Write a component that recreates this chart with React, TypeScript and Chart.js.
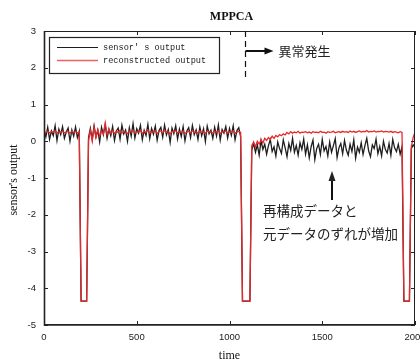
import React, { useEffect, useRef } from "react";
import { Chart, registerables } from "chart.js";

Chart.register(...registerables);

const TIME_STEP = 10;
const X_TICKS = [0, 500, 1000, 1500, 2000];
const Y_TICKS = [-5, -4, -3, -2, -1, 0, 1, 2, 3];
const DROP = -4.35;

const sensorOutput = [
  0.30, 0.12, 0.38, 0.05, 0.28, 0.15, 0.42, 0.02, 0.33, 0.18, 0.40, 0.08, 0.25, 0.36, 0.00, 0.31, 0.14, 0.39, 0.10, 0.27,
  DROP, DROP, DROP, DROP,
  0.10, 0.35, 0.05, 0.42, 0.12, 0.30, -0.02, 0.38, 0.18, 0.45, 0.08, 0.33, 0.15, 0.40, 0.02, 0.28, 0.36, 0.06, 0.44, 0.20,
  0.31, 0.00, 0.37, 0.14, 0.48, 0.09, 0.34, 0.22, 0.43, 0.04, 0.30, 0.16, 0.46, 0.07, 0.35, 0.19, 0.41, 0.03, 0.29, 0.38,
  0.11, 0.44, 0.17, 0.32, -0.03, 0.36, 0.21, 0.42, 0.06, 0.33, 0.13, 0.40, 0.01, 0.28, 0.37, 0.10, 0.43, 0.18, 0.31, 0.05,
  0.39, 0.15, 0.34, -0.01, 0.41, 0.20, 0.30, 0.08, 0.38, 0.14, 0.44, 0.03, 0.32, 0.22, 0.40, 0.09, 0.35, 0.16, 0.42, 0.04,
  0.29, 0.37, 0.12,
  DROP, DROP, DROP, DROP, DROP,
  -0.25, -0.05, -0.30, -0.10, -0.38, 0.02, -0.22, -0.08, -0.35, -0.12, 0.05, -0.28, -0.15, -0.40, -0.02, -0.20, -0.33, 0.04,
  -0.18, -0.42, -0.06, -0.25, 0.08, -0.30, -0.12, -0.38, -0.04, -0.22, 0.06, -0.35, -0.10, -0.45, -0.15, 0.03, -0.50, -0.20,
  -0.08, -0.36, 0.05, -0.26, -0.14, -0.40, -0.02, -0.30, -0.12, 0.07, -0.44, -0.18, -0.06, -0.34, 0.02, -0.24, -0.38, -0.08,
  -0.28, 0.04, -0.46, -0.16, -0.30, -0.04, -0.36, -0.12, 0.08, -0.26, -0.42, -0.10, -0.20, 0.06, -0.34, -0.14, -0.40, 0.00,
  -0.22, -0.32, -0.06, -0.38, 0.05, -0.18, -0.28, -0.08, -0.35, -0.15,
  DROP, DROP, DROP, DROP,
  -0.20, -0.10, -0.15,
];

const reconstructedOutput = [
  0.25, 0.24, 0.27, 0.23, 0.26, 0.25, 0.28, 0.22, 0.26, 0.24, 0.27, 0.23, 0.25, 0.26, 0.22, 0.27, 0.24, 0.26, 0.23, 0.25,
  DROP, DROP, DROP, DROP,
  0.02, 0.30, 0.00, 0.38, 0.10, 0.32, 0.14, 0.28, 0.20, 0.50, 0.18, 0.32, 0.22, 0.29, 0.21, 0.27, 0.24, 0.30, 0.22, 0.26,
  0.25, 0.21, 0.28, 0.24, 0.29, 0.22, 0.26, 0.25, 0.30, 0.21, 0.27, 0.24, 0.31, 0.22, 0.26, 0.25, 0.29, 0.21, 0.26, 0.28,
  0.23, 0.30, 0.24, 0.26, 0.20, 0.27, 0.25, 0.29, 0.22, 0.26, 0.24, 0.28, 0.21, 0.25, 0.27, 0.23, 0.29, 0.24, 0.26, 0.22,
  0.28, 0.24, 0.26, 0.21, 0.28, 0.25, 0.26, 0.22, 0.27, 0.24, 0.29, 0.21, 0.26, 0.25, 0.28, 0.22, 0.26, 0.24, 0.28, 0.22,
  0.25, 0.27, 0.24,
  DROP, DROP, DROP, DROP, DROP,
  -0.12, -0.02, -0.15, 0.00, -0.08, 0.04, -0.05, 0.08, 0.02, 0.10, 0.05, 0.14, 0.08, 0.16, 0.12, 0.18, 0.15, 0.20,
  0.17, 0.24, 0.20, 0.26, 0.22, 0.25, 0.23, 0.27, 0.22, 0.25, 0.24, 0.26, 0.23, 0.25, 0.22, 0.26, 0.24, 0.25,
  0.23, 0.27, 0.24, 0.25, 0.22, 0.26, 0.24, 0.25, 0.27, 0.23, 0.25, 0.26, 0.24, 0.27, 0.25, 0.26, 0.24, 0.28,
  0.25, 0.27, 0.24, 0.26, 0.28, 0.25, 0.27, 0.26, 0.29, 0.25, 0.27, 0.26, 0.28, 0.25, 0.27, 0.26, 0.28, 0.25,
  0.27, 0.26, 0.25, 0.27, 0.24, 0.26, 0.25, 0.23, 0.26, 0.24,
  DROP, DROP, DROP, DROP,
  -0.15, 0.10, 0.25,
];

const ANOMALY_TIME = 1086;
const TITLE = "MPPCA";
const X_LABEL = "time";
const Y_LABEL = "sensor's output";
const LEGEND_LABELS = ["sensor' s output", "reconstructed output"];
const ANOMALY_TEXT = "異常発生";
const NOTE_LINES = ["再構成データと", "元データのずれが増加"];

const BLACK = "#1e1e1e";
const RED = "#e8282c";
const LEGEND_RED = "#f06262";

const toPoints = (vals: number[]) => vals.map((v, i) => ({ x: i * TIME_STEP, y: v }));

const decorPlugin = {
  id: "decor",
  afterDraw(chart: any) {
    const ctx = chart.ctx as CanvasRenderingContext2D;
    const { left, right, top, bottom } = chart.chartArea;
    const xs = chart.scales.x;
    const ys = chart.scales.y;
    ctx.save();

    // frame
    ctx.strokeStyle = "#222";
    ctx.lineWidth = 1;
    ctx.strokeRect(left + 0.5, top + 0.5, right - left - 1, bottom - top - 1);
    ctx.lineWidth = 1.6;
    ctx.beginPath();
    ctx.moveTo(left + 0.5, top);
    ctx.lineTo(left + 0.5, bottom);
    ctx.lineTo(right, bottom);
    ctx.stroke();

    // inward ticks
    ctx.lineWidth = 1;
    const tl = 4;
    for (const t of X_TICKS) {
      const px = Math.round(xs.getPixelForValue(t)) + 0.5;
      ctx.beginPath();
      ctx.moveTo(px, bottom);
      ctx.lineTo(px, bottom - tl);
      ctx.moveTo(px, top);
      ctx.lineTo(px, top + tl);
      ctx.stroke();
    }
    for (const t of Y_TICKS) {
      const py = Math.round(ys.getPixelForValue(t)) + 0.5;
      ctx.beginPath();
      ctx.moveTo(left, py);
      ctx.lineTo(left + tl, py);
      ctx.moveTo(right, py);
      ctx.lineTo(right - tl, py);
      ctx.stroke();
    }

    // dashed anomaly line
    const ax = Math.round(xs.getPixelForValue(ANOMALY_TIME)) + 0.5;
    ctx.strokeStyle = "#111";
    ctx.lineWidth = 1.2;
    ctx.setLineDash([6, 4]);
    ctx.beginPath();
    ctx.moveTo(ax, top);
    ctx.lineTo(ax, top + 46);
    ctx.stroke();
    ctx.setLineDash([]);

    // right arrow
    const ay = top + 20;
    ctx.lineWidth = 2;
    ctx.beginPath();
    ctx.moveTo(ax, ay);
    ctx.lineTo(ax + 20, ay);
    ctx.stroke();
    ctx.fillStyle = "#111";
    ctx.beginPath();
    ctx.moveTo(ax + 28, ay);
    ctx.lineTo(ax + 19, ay - 3.5);
    ctx.lineTo(ax + 19, ay + 3.5);
    ctx.closePath();
    ctx.fill();

    ctx.fillStyle = "#222";
    ctx.font = '13px "Noto Sans CJK JP"';
    ctx.textAlign = "left";
    ctx.textBaseline = "middle";
    ctx.fillText(ANOMALY_TEXT, ax + 33, ay);

    // up arrow
    const ux = 332;
    ctx.lineWidth = 2;
    ctx.beginPath();
    ctx.moveTo(ux, 200);
    ctx.lineTo(ux, 180);
    ctx.stroke();
    ctx.beginPath();
    ctx.moveTo(ux, 171);
    ctx.lineTo(ux - 3.5, 181);
    ctx.lineTo(ux + 3.5, 181);
    ctx.closePath();
    ctx.fill();

    ctx.font = '13.5px "Noto Sans CJK JP"';
    ctx.fillText(NOTE_LINES[0], 263, 211);
    ctx.fillText(NOTE_LINES[1], 263, 234);

    // legend
    const lx = 49, ly = 37, lw = 170, lh = 36;
    ctx.fillStyle = "#fff";
    ctx.fillRect(lx, ly, lw, lh);
    ctx.strokeStyle = "#222";
    ctx.lineWidth = 1.2;
    ctx.strokeRect(lx + 0.5, ly + 0.5, lw, lh);
    ctx.lineWidth = 1;
    ctx.strokeStyle = BLACK;
    ctx.beginPath();
    ctx.moveTo(57, 47.5);
    ctx.lineTo(98, 47.5);
    ctx.stroke();
    ctx.strokeStyle = LEGEND_RED;
    ctx.lineWidth = 1.5;
    ctx.beginPath();
    ctx.moveTo(57, 60.5);
    ctx.lineTo(98, 60.5);
    ctx.stroke();
    ctx.fillStyle = "#222";
    ctx.font = '8.6px "Liberation Mono"';
    ctx.fillText(LEGEND_LABELS[0], 103, 47.5);
    ctx.fillText(LEGEND_LABELS[1], 103, 60.5);

    // title & axis titles
    ctx.fillStyle = "#111";
    ctx.textAlign = "center";
    ctx.font = 'bold 12px "Liberation Serif"';
    ctx.fillText(TITLE, (left + right) / 2 + 2, 17);
    ctx.font = '12px "Liberation Serif"';
    ctx.fillText(X_LABEL, (left + right) / 2, 356);
    ctx.translate(14, (top + bottom) / 2 + 2);
    ctx.rotate(-Math.PI / 2);
    ctx.fillText(Y_LABEL, 0, 0);
    ctx.restore();
  },
};

export default function App() {
  const ref = useRef<HTMLCanvasElement>(null);
  useEffect(() => {
    if (!ref.current) return;
    const chart = new Chart(ref.current, {
      type: "line",
      data: {
        datasets: [
          {
            label: LEGEND_LABELS[0],
            data: toPoints(sensorOutput),
            borderColor: BLACK,
            borderWidth: 1.3,
            pointRadius: 0,
            tension: 0,
            order: 2,
          },
          {
            label: LEGEND_LABELS[1],
            data: toPoints(reconstructedOutput),
            borderColor: RED,
            borderWidth: 1.3,
            pointRadius: 0,
            tension: 0,
            order: 1,
          },
        ],
      },
      options: {
        responsive: false,
        animation: false,
        devicePixelRatio: 1,
        layout: { padding: { top: 31, right: 25, left: 0, bottom: 0 } },
        plugins: { legend: { display: false }, tooltip: { enabled: false }, title: { display: false } },
        scales: {
          x: {
            type: "linear",
            min: 0,
            max: 2000,
            grid: { display: false, drawTicks: false },
            border: { display: false },
            afterFit: (s: any) => { s.height = 37; },
            afterBuildTicks: (s: any) => { s.ticks = X_TICKS.map((v) => ({ value: v })); },
            ticks: {
              padding: 7,
              color: "#222",
              font: { family: "Liberation Sans", size: 9.5 },
              maxRotation: 0,
              callback: (v: any) => String(v),
            },
          },
          y: {
            type: "linear",
            min: -5,
            max: 3,
            grid: { display: false, drawTicks: false },
            border: { display: false },
            afterFit: (s: any) => { s.width = 44; },
            afterBuildTicks: (s: any) => { s.ticks = Y_TICKS.map((v) => ({ value: v })); },
            ticks: {
              padding: 8,
              color: "#222",
              font: { family: "Liberation Sans", size: 9.5 },
              callback: (v: any) => String(v),
            },
          },
        },
      },
      plugins: [decorPlugin],
    });
    return () => chart.destroy();
  }, []);
  return (
    <div style={{ position: "fixed", left: 0, top: 0, width: 420, height: 362, overflow: "hidden", background: "#fff" }}>
      <canvas ref={ref} width={440} height={362} style={{ width: 440, height: 362, display: "block" }} />
    </div>
  );
}
